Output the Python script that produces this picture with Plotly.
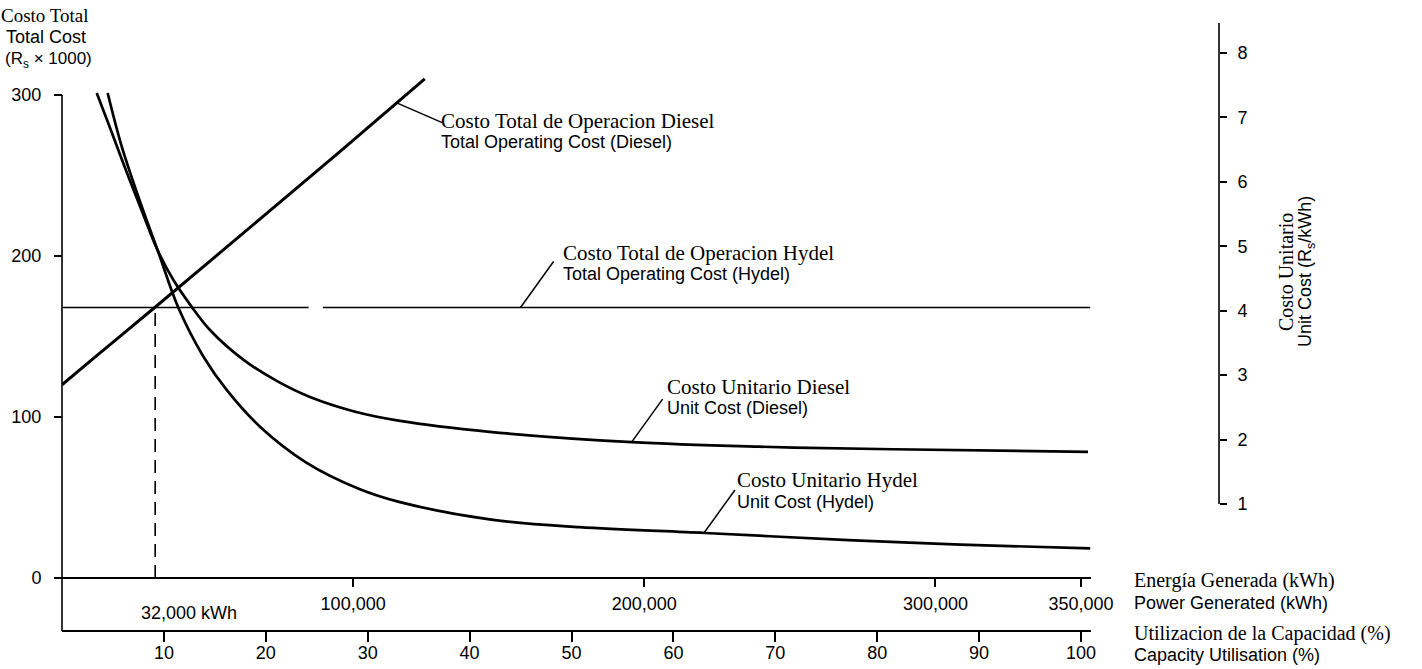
import numpy as np
import plotly.graph_objects as go

# ---------------- data ----------------
capacity_ticks = [10, 20, 30, 40, 50, 60, 70, 80, 90, 100]
kwh_ticks = [100000, 200000, 300000, 350000]
total_cost_ticks = [0, 100, 200, 300]
unit_cost_ticks = [1, 2, 3, 4, 5, 6, 7, 8]
KWH_AT_FULL_CAPACITY = 350000

diesel_total_pct = [0, 3.0, 9.1, 20, 27.3, 35.6]
diesel_total_cost = [120, 136, 168, 226, 265, 310]

hydel_total_pct = [0, 24.2, None, 25.6, 100.9]
hydel_total_cost = [168, 168, None, 168, 168]

diesel_unit_pct = [3.41, 4.71, 6.35, 7.98, 9.29, 10.92, 12.73, 14.52, 17.79, 21.07,
                   24.34, 28.59, 33.17, 41.97, 55.92, 68.37, 81.55, 100.69]
diesel_unit_cost = [7.38, 6.84, 6.15, 5.49, 4.97, 4.48, 4.06, 3.70, 3.24, 2.91,
                    2.66, 2.44, 2.29, 2.12, 1.96, 1.89, 1.85, 1.81]

hydel_unit_pct = [4.48, 5.86, 7.49, 9.45, 11.41, 13.87, 16.16, 19.43, 24.01, 29.24,
                  33.17, 41.97, 50.77, 63.10, 77.17, 88.17, 100.9]
hydel_unit_cost = [7.38, 6.55, 5.77, 4.91, 4.05, 3.29, 2.77, 2.20, 1.64, 1.23,
                   1.03, 0.76, 0.64, 0.55, 0.44, 0.37, 0.31]

break_even_kwh = 32000
break_even_cost = 168

# ---------------- layout geometry ----------------
FIG_W, FIG_H = 1422, 669
PL, PT, PR, PB = 62, 20, 1235, 631          # plot area in pixels
W, H = PR - PL, PB - PT

def fx(px):
    return (px - PL) / W

def fy(py):
    return (PB - py) / H

X_END_PX = 1091
PX_PER_PCT = 10.19
x_range = [0, (X_END_PX - PL) / PX_PER_PCT]
x_domain = [0, fx(X_END_PX)]
kwh_range = [v * KWH_AT_FULL_CAPACITY / 100 for v in x_range]

# left axis: 0 at y=578, 300 at y=95
L0, L300 = 578, 95
lpx = (L0 - L300) / 300.0
yl_range = [(L0 - PB) / lpx, (L0 - PT) / lpx]
# right axis: 1 at y=504, 8 at y=53
R1, R8 = 504, 53
rpx = (R1 - R8) / 7.0
yr_range = [1 - (PB - R1) / rpx, 1 + (R1 - PT) / rpx]
RIGHT_AXIS_PX = 1219

SANS = "Liberation Sans, Arial, sans-serif"
SERIF = "Liberation Serif, Times New Roman, serif"
BLACK = "black"

fig = go.Figure()

fig.add_trace(go.Scatter(x=diesel_total_pct, y=diesel_total_cost, mode="lines",
                         line=dict(color=BLACK, width=3, shape="spline", smoothing=0.6),
                         xaxis="x", yaxis="y", hoverinfo="skip"))
fig.add_trace(go.Scatter(x=hydel_total_pct, y=hydel_total_cost, mode="lines",
                         line=dict(color=BLACK, width=1.6), connectgaps=False,
                         xaxis="x", yaxis="y", hoverinfo="skip"))
fig.add_trace(go.Scatter(x=diesel_unit_pct, y=diesel_unit_cost, mode="lines",
                         line=dict(color=BLACK, width=2.7, shape="spline", smoothing=1.0),
                         xaxis="x", yaxis="y2", hoverinfo="skip"))
fig.add_trace(go.Scatter(x=hydel_unit_pct, y=hydel_unit_cost, mode="lines",
                         line=dict(color=BLACK, width=2.7, shape="spline", smoothing=1.0),
                         xaxis="x", yaxis="y2", hoverinfo="skip"))
fig.add_trace(go.Scatter(x=[break_even_kwh, break_even_kwh], y=[0, break_even_cost],
                         mode="lines", line=dict(color=BLACK, width=1.6, dash="13px,8px"),
                         xaxis="x2", yaxis="y", hoverinfo="skip"))

TICK = 18
tick_font = dict(family=SANS, size=TICK, color=BLACK)

fig.update_layout(
    width=FIG_W, height=FIG_H,
    margin=dict(l=PL, r=FIG_W - PR, t=PT, b=FIG_H - PB, pad=0, autoexpand=False),
    paper_bgcolor="white", plot_bgcolor="white",
    showlegend=False,
    xaxis=dict(domain=x_domain, range=x_range, anchor="free", position=0,
               automargin=False,
               showline=True, linecolor=BLACK, linewidth=1.6, showgrid=False,
               zeroline=False, ticks="outside", ticklen=10, tickwidth=1.5,
               tickcolor=BLACK, tickmode="array", tickvals=capacity_ticks,
               tickfont=tick_font, ticklabelstandoff=-4),
    xaxis2=dict(overlaying="x", range=kwh_range, anchor="free", position=fy(L0),
                automargin=False,
                showline=True, linecolor=BLACK, linewidth=1.6, showgrid=False,
                zeroline=False, ticks="outside", ticklen=8, tickwidth=1.5,
                tickcolor=BLACK, tickmode="array", tickvals=kwh_ticks,
                tickformat=",", tickfont=tick_font, ticklabelstandoff=2),
    yaxis=dict(domain=[0, 1], range=yl_range, anchor="free", position=0,
               automargin=False,
               showline=False, showgrid=False, zeroline=False, ticks="outside",
               ticklen=8, tickwidth=1.5, tickcolor=BLACK, tickmode="array",
               tickvals=total_cost_ticks, tickfont=tick_font, ticklabelstandoff=9),
    yaxis2=dict(overlaying="y", side="right", range=yr_range, anchor="free",
                automargin=False,
                position=fx(RIGHT_AXIS_PX), showline=False, showgrid=False,
                zeroline=False, ticks="outside", ticklen=7, tickwidth=1.5,
                tickcolor=BLACK, tickmode="array", tickvals=unit_cost_ticks,
                tickfont=tick_font, ticklabelstandoff=7),
)

shapes = [
    # left axis line (from capacity axis up to 300)
    dict(type="line", xref="paper", yref="paper", x0=0, x1=0, y0=0, y1=fy(L300),
         line=dict(color=BLACK, width=1.6)),
    # right axis line
    dict(type="line", xref="paper", yref="paper", x0=fx(RIGHT_AXIS_PX),
         x1=fx(RIGHT_AXIS_PX), y0=fy(R1), y1=fy(23), line=dict(color=BLACK, width=1.6)),
]

def leader(xv, xs, ys, yref, dx, dy):
    xs_ = [a for a in xs if a is not None]
    ys_ = [b for b in ys if b is not None]
    yv = float(np.interp(xv, xs_, ys_))
    return dict(type="line", xref="x", yref=yref, xsizemode="pixel", ysizemode="pixel",
                xanchor=xv, yanchor=yv, x0=0, y0=0, x1=dx, y1=dy,
                line=dict(color=BLACK, width=1.5))

shapes.append(leader(32.85, diesel_total_pct, diesel_total_cost, "y", 46, -20))
shapes.append(leader(45.0, hydel_total_pct, hydel_total_cost, "y", 33, 46))
shapes.append(leader(55.9, diesel_unit_pct, diesel_unit_cost, "y2", 31, 43))
shapes.append(leader(63.0, hydel_unit_pct, hydel_unit_cost, "y2", 31, 43))
fig.update_layout(shapes=shapes)

annotations = []

def label(text, px, py, family, size, xanchor="left", angle=0):
    annotations.append(dict(text=text, xref="paper", yref="paper", x=fx(px), y=fy(py),
                            xanchor=xanchor, yanchor="middle", showarrow=False,
                            textangle=angle, borderpad=0,
                            font=dict(family=family, size=size, color=BLACK)))

SER = 21
SAN = 18

# top-left axis title
label("Costo Total", 45, 15, SERIF, 19, "center")
label("Total Cost", 46, 37, SANS, SAN, "center")
label("(R<sub>s</sub> × 1000)", 48, 60, SANS, 17, "center")

# right axis title
label("Costo Unitario", 1286, 272, SERIF, 20, "center", -90)
label("Unit Cost (R<sub>s</sub>/kWh)", 1306, 272, SANS, SAN, "center", -90)

# curve labels
label("Costo Total de Operacion Diesel", 440, 121, SERIF, SER)
label("Total Operating Cost (Diesel)", 440, 142, SANS, SAN)
label("Costo Total de Operacion Hydel", 562, 253, SERIF, SER)
label("Total Operating Cost (Hydel)", 562, 274, SANS, SAN)
label("Costo Unitario Diesel", 666, 387, SERIF, SER)
label("Unit Cost (Diesel)", 666, 408, SANS, SAN)
label("Costo Unitario Hydel", 736, 480, SERIF, SER)
label("Unit Cost (Hydel)", 736, 502, SANS, SAN)

# x-axis titles at right
label("Energía Generada (kWh)", 1133, 580, SERIF, 20)
label("Power Generated (kWh)", 1133, 603, SANS, SAN)
label("Utilizacion de la Capacidad (%)", 1133, 633, SERIF, 20)
label("Capacity Utilisation (%)", 1133, 655, SANS, SAN)

# break-even label
label(f"{break_even_kwh:,} kWh", 189, 613, SANS, SAN, "center")

fig.update_layout(annotations=annotations)

fig.write_html("out.html", config={"displayModeBar": False},
               post_script="document.body.style.margin='0';")
